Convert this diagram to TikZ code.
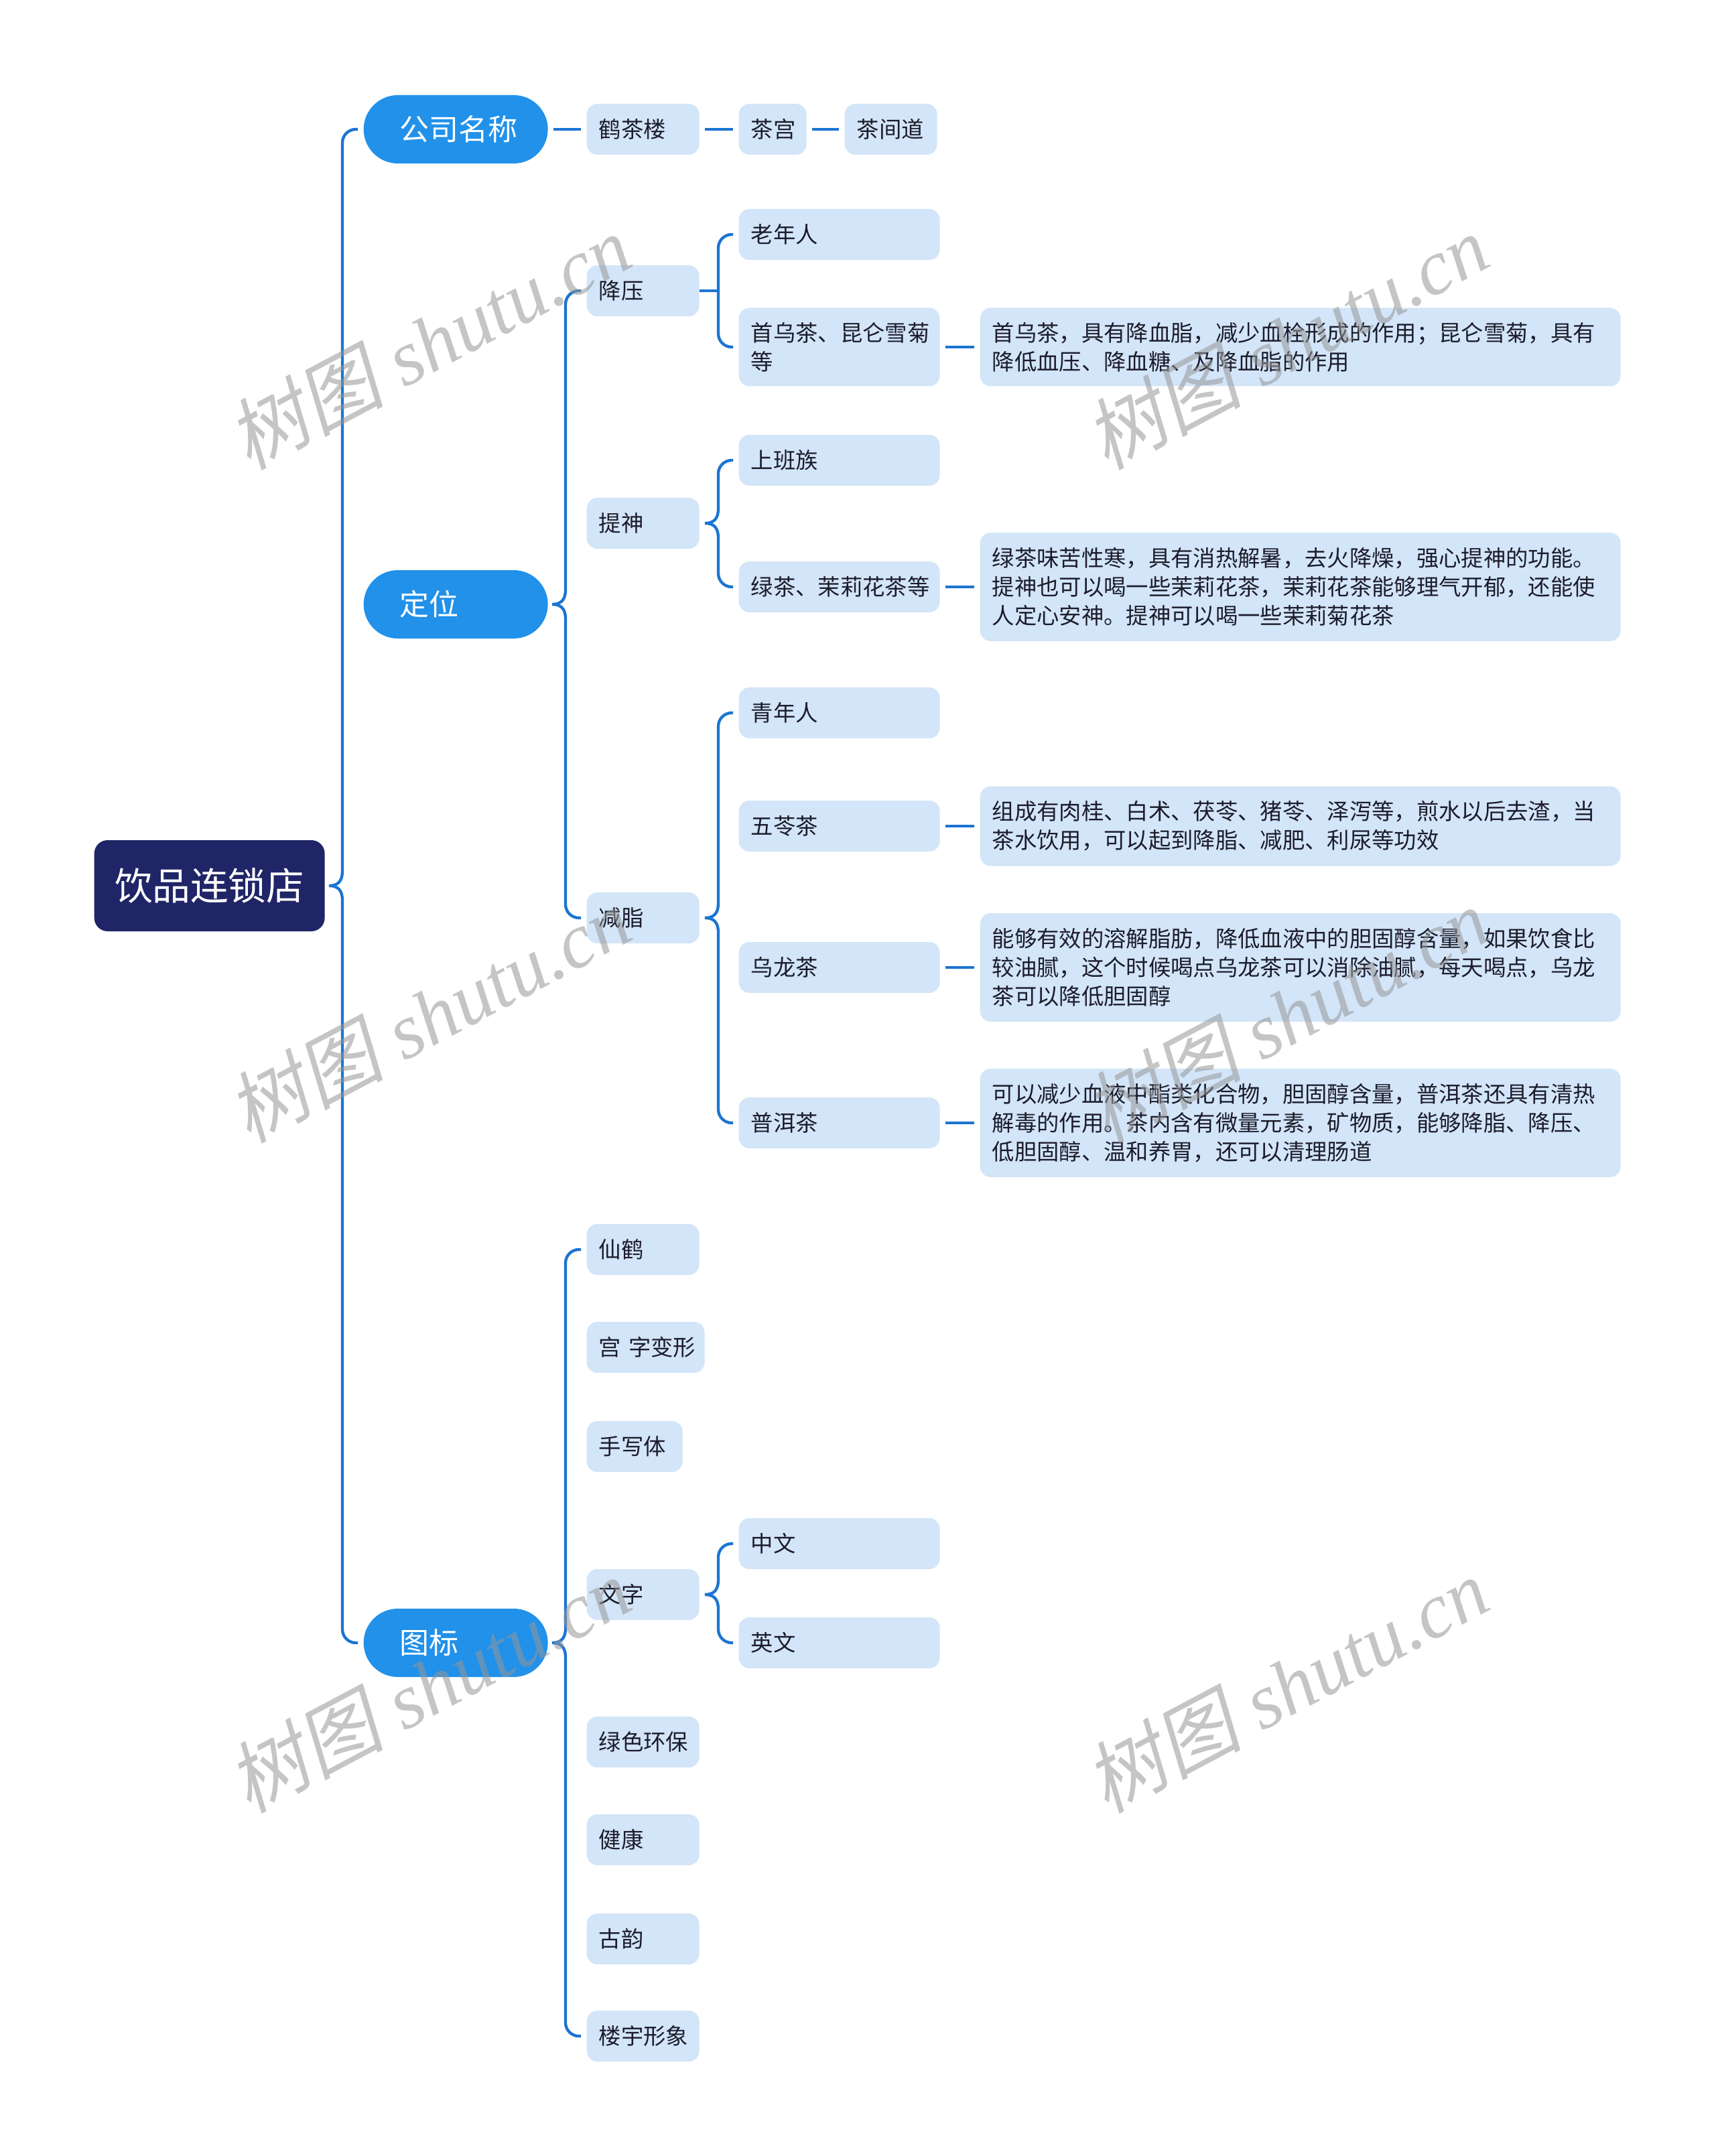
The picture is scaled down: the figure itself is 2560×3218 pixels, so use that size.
\documentclass[tikz,border=0pt]{standalone}
\usepackage{fontspec}
\setmainfont{Noto Sans CJK SC}
\newfontfamily\wmcjk[FakeSlant=0.2]{Noto Sans CJK SC}
\newfontfamily\wmlat{Liberation Serif}
\usetikzlibrary{calc}
\definecolor{rootc}{RGB}{31,37,102}
\definecolor{lvlone}{RGB}{33,145,234}
\definecolor{lvltwo}{RGB}{211,229,248}
\definecolor{linec}{RGB}{27,117,210}
\definecolor{txtc}{RGB}{28,28,44}
\definecolor{wmc}{RGB}{150,150,150}
\tikzset{
  conn/.style={draw=linec, line width=1.3pt},
  rootbox/.style={fill=rootc, rounded corners=6pt, text=white, font=\fontsize{17}{20}\selectfont,
    minimum width=103.2pt, minimum height=40.8pt, inner sep=0pt, anchor=west},
  lone/.style={fill=lvlone, rounded corners=15.3pt, text=white, font=\fontsize{13.2}{16}\selectfont,
    minimum height=30.6pt, inner xsep=16pt, inner ysep=0pt, text width=50.5pt, align=left, anchor=west},
  ltwo/.style={fill=lvltwo, rounded corners=4.8pt, text=txtc, font=\fontsize{10}{12.9}\selectfont,
    minimum height=22.8pt, inner xsep=5.4pt, inner ysep=0pt, align=left, anchor=west},
  wm/.style={text=wmc, opacity=0.55, rotate=28, inner sep=0pt, font=\fontsize{35}{38}\selectfont},
}
\newcommand{\brc}[4]{%
  \draw[conn] let \p1=(#1.east), \p2=(#3.west), \p3=(#4.west), \p4=(#2) in
    (\x2-2.4pt,\y2) -- (\x4+6pt,\y2) arc[start angle=90, end angle=180, radius=6pt]
    -- (\x4,\y1+6.6pt) .. controls (\x4,\y1+2pt) and (\x4-2pt,\y1) .. (\x4-6pt,\y1)
    .. controls (\x4-2pt,\y1) and (\x4,\y1-2pt) .. (\x4,\y1-6.6pt)
    -- (\x4,\y3+6pt) arc[start angle=180, end angle=270, radius=6pt] -- (\x3-2.4pt,\y3);}
\newcommand{\lnk}[2]{\draw[conn, shorten <=2.4pt, shorten >=2.4pt] (#1.east) -- (#2.west);}
\newcommand{\wmtext}{{\wmcjk 树图}\hspace{0.25em}{\wmlat\itshape shutu.cn}}
\begin{document}
\begin{tikzpicture}[x=0.3pt,y=-0.3pt]
\fill[white] (0,0) rectangle (2560,3218);
\useasboundingbox (0,0) rectangle (2560,3218);
\coordinate (s0) at (511,0);
\coordinate (s1) at (844,0);
\coordinate (s2) at (1072,0);

% root and level 1
\node[rootbox] (root) at (140,1322) {饮品连锁店};
\node[lone] (gs) at (542,193) {公司名称};
\node[lone] (dw) at (542,902) {定位};
\node[lone] (tb) at (542,2452) {图标};

% company names
\node[ltwo, text width=39.6pt] (hcl) at (875,193) {鹤茶楼};
\node[ltwo, text width=19.5pt] (cg) at (1102,193) {茶宫};
\node[ltwo, text width=30.6pt] (cjd) at (1260,193) {茶间道};

% positioning
\node[ltwo, text width=39.6pt] (jy) at (875,434) {降压};
\node[ltwo, text width=39.6pt] (ts) at (875,781) {提神};
\node[ltwo, text width=39.6pt] (jz) at (875,1370) {减脂};

\node[ltwo, text width=79.2pt] (lnr) at (1102,350) {老年人};
\node[ltwo, text width=79.2pt, minimum height=35.1pt] (swc) at (1102,518) {首乌茶、昆仑雪菊\\等};
\node[ltwo, text width=276pt, minimum height=35.1pt] (d1) at (1462,518) {首乌茶，具有降血脂，减少血栓形成的作用；昆仑雪菊，具有\\降低血压、降血糖、及降血脂的作用};

\node[ltwo, text width=79.2pt] (sbz) at (1102,687) {上班族};
\node[ltwo, text width=79.2pt] (lc) at (1102,876) {绿茶、茉莉花茶等};
\node[ltwo, text width=276pt, minimum height=48.6pt] (d2) at (1462,876) {绿茶味苦性寒，具有消热解暑，去火降燥，强心提神的功能。\\提神也可以喝一些茉莉花茶，茉莉花茶能够理气开郁，还能使\\人定心安神。提神可以喝一些茉莉菊花茶};

\node[ltwo, text width=79.2pt] (qnr) at (1102,1064) {青年人};
\node[ltwo, text width=79.2pt] (wl) at (1102,1233) {五苓茶};
\node[ltwo, text width=276pt, minimum height=35.7pt] (d3) at (1462,1233) {组成有肉桂、白术、茯苓、猪苓、泽泻等，煎水以后去渣，当\\茶水饮用，可以起到降脂、减肥、利尿等功效};
\node[ltwo, text width=79.2pt] (wlc) at (1102,1444) {乌龙茶};
\node[ltwo, text width=276pt, minimum height=48.6pt] (d4) at (1462,1444) {能够有效的溶解脂肪，降低血液中的胆固醇含量，如果饮食比\\较油腻，这个时候喝点乌龙茶可以消除油腻，每天喝点，乌龙\\茶可以降低胆固醇};
\node[ltwo, text width=79.2pt] (pe) at (1102,1676) {普洱茶};
\node[ltwo, text width=276pt, minimum height=48.6pt] (d5) at (1462,1676) {可以减少血液中酯类化合物，胆固醇含量，普洱茶还具有清热\\解毒的作用。茶内含有微量元素，矿物质，能够降脂、降压、\\低胆固醇、温和养胃，还可以清理肠道};

% logo
\node[ltwo, text width=39.6pt] (xh) at (875,1865) {仙鹤};
\node[ltwo, text width=42pt] (gz) at (875,2011) {\mbox{宫 字变形}};
\node[ltwo, text width=32.1pt] (sx) at (875,2159) {手写体};
\node[ltwo, text width=39.6pt] (wz) at (875,2380) {文字};
\node[ltwo, text width=79.2pt] (zw) at (1102,2304) {中文};
\node[ltwo, text width=79.2pt] (yw) at (1102,2452) {英文};
\node[ltwo, text width=39.6pt] (ls) at (875,2600) {绿色环保};
\node[ltwo, text width=39.6pt] (jk) at (875,2746) {健康};
\node[ltwo, text width=39.6pt] (gy) at (875,2894) {古韵};
\node[ltwo, text width=39.6pt] (lyxx) at (875,3039) {楼宇形象};

% connectors
\brc{root}{s0}{gs}{tb}
\brc{dw}{s1}{jy}{jz}
\brc{tb}{s1}{xh}{lyxx}
\brc{ts}{s2}{sbz}{lc}
\brc{jz}{s2}{qnr}{pe}
\brc{wz}{s2}{zw}{yw}
\draw[conn] (jy.east) -- (s2 |- jy.east);
\draw[conn] let \p2=(lnr.west), \p3=(swc.west), \p4=(s2) in
  (\x2-2.4pt,\y2) -- (\x4+6pt,\y2) arc[start angle=90, end angle=180, radius=6pt]
  -- (\x4,\y3+6pt) arc[start angle=180, end angle=270, radius=6pt] -- (\x3-2.4pt,\y3);
\lnk{gs}{hcl}
\lnk{hcl}{cg}
\lnk{cg}{cjd}
\lnk{swc}{d1}
\lnk{lc}{d2}
\lnk{wl}{d3}
\lnk{wlc}{d4}
\lnk{pe}{d5}

% watermarks
\node[wm] (wm1) at (640,510) {\wmtext};
\node[wm] (wm2) at (1920,510) {\wmtext};
\node[wm] (wm3) at (640,1515) {\wmtext};
\node[wm] (wm4) at (1920,1515) {\wmtext};
\node[wm] (wm5) at (640,2515) {\wmtext};
\node[wm] (wm6) at (1920,2515) {\wmtext};
\end{tikzpicture}
\end{document}
